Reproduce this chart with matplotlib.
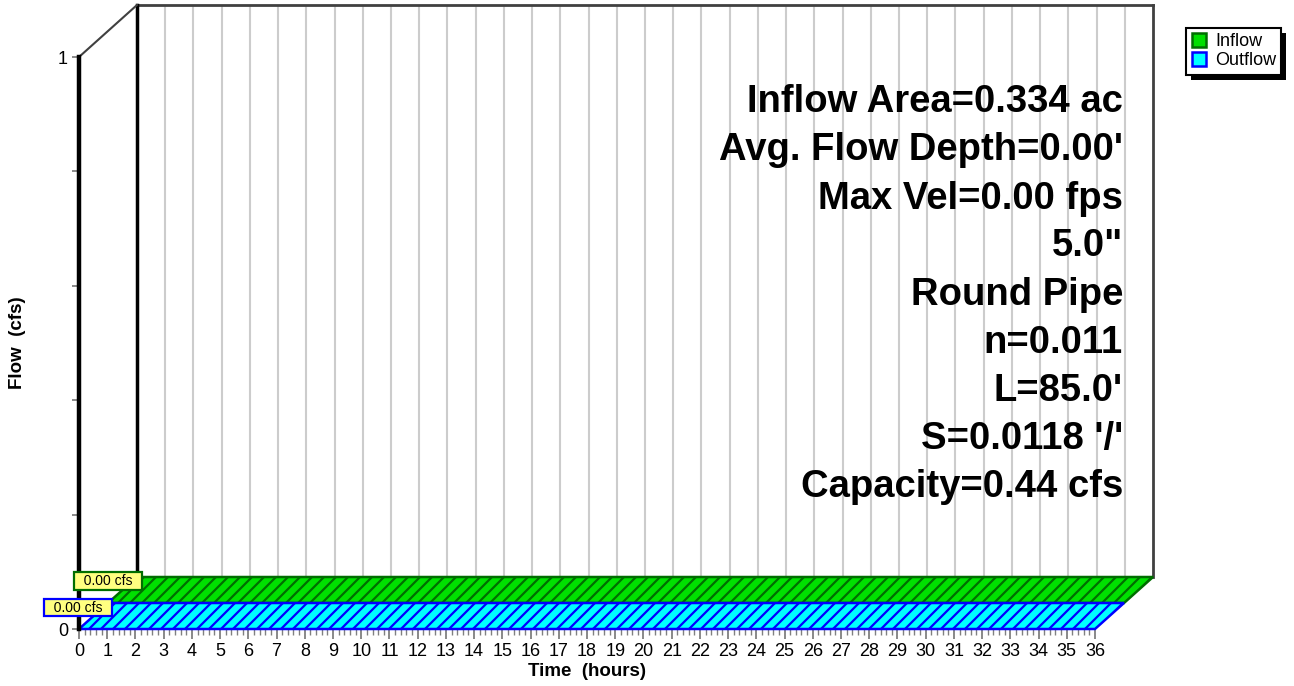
import matplotlib
matplotlib.use('Agg')
import matplotlib.pyplot as plt
from matplotlib.patches import Polygon, Rectangle
from matplotlib.lines import Line2D
from matplotlib.transforms import ScaledTranslation, IdentityTransform
import numpy as np

plt.rcParams['font.family'] = ['Liberation Sans', 'DejaVu Sans']

# hydrograph data (hours / cfs)
time_hr = [0.0, 36.0]
inflow_cfs = [0.00, 0.00]
outflow_cfs = [0.00, 0.00]

series_names = ['Inflow', 'Outflow']
fill_colors = ['#00E000', '#00FFFF']
edge_colors = ['#006E00', '#0000FF']

x_ticks = list(range(0, 37))
y_ticks = [0, 0.2, 0.4, 0.6, 0.8, 1.0]
y_ticklabels = ['0', '', '', '', '', '1']

info_lines = ["Inflow Area=0.334 ac", "Avg. Flow Depth=0.00'", "Max Vel=0.00 fps",
              '5.0"', "Round Pipe", "n=0.011", "L=85.0'", "S=0.0118 '/'",
              "Capacity=0.44 cfs"]

# 3d depth shift in pixels (for full depth)
DX, DY = 58, 52

fig = plt.figure(figsize=(12.94, 6.86), dpi=100)
ax = fig.add_axes([79 / 1294, 57 / 686, 1016 / 1294, 572 / 686])
ax.set_xlim(0, 36)
ax.set_ylim(0, 1)
ax.patch.set_visible(False)


def shifted(depth):
    return ax.transData + ScaledTranslation(DX * depth / 100, DY * depth / 100, fig.dpi_scale_trans)


def px(x, y, depth):
    p = ax.transData.transform((x, y))
    return p + depth * np.array([DX, DY]) * fig.dpi / 100


# back wall
back = shifted(1.0)
ax.vlines(x_ticks[1:-1], 0, 1, colors='#cccccc', lw=1.5, transform=back, zorder=1, clip_on=False)
ax.plot([0, 36], [1, 1], color='#404040', lw=2, transform=back, clip_on=False, zorder=1.5)
ax.plot([36, 36], [0, 1], color='#404040', lw=2, transform=back, clip_on=False, zorder=1.5)
ax.plot([0, 0], [0, 1], color='black', lw=2.5, transform=back, clip_on=False, zorder=1.5)
diag = np.array([px(0, 1, 0), px(0, 1, 1)])
ax.plot(diag[:, 0], diag[:, 1], color='#404040', lw=1.5, transform=IdentityTransform(), clip_on=False)

# ribbons (inflow at back, outflow at front)
series = [inflow_cfs, outflow_cfs]
depths = [(0.5, 1.0), (0.0, 0.5)]
label_offsets = [(-29, -4), (-30, -4.5)]
hatch_step = 12
for i in range(2):
    q = series[i]
    d0, d1 = depths[i]
    pts = [px(t, v, d0) for t, v in zip(time_hr, q)]
    pts += [px(t, v, d1) for t, v in zip(time_hr[::-1], q[::-1])]
    pts = np.array(pts)
    poly = Polygon(pts, closed=True, facecolor=fill_colors[i], edgecolor='none',
                   transform=IdentityTransform(), clip_on=False, zorder=2 + i)
    ax.add_patch(poly)
    # hatch lines clipped to the ribbon
    ymin, ymax = pts[:, 1].min(), pts[:, 1].max()
    h = ymax - ymin
    xmin, xmax = pts[:, 0].min(), pts[:, 0].max()
    for xs in np.arange(xmin - h, xmax + hatch_step, hatch_step):
        ln, = ax.plot([xs, xs + h], [ymin, ymax], color=edge_colors[i], lw=1.6,
                      transform=IdentityTransform(), zorder=2 + i + 0.1)
        ln.set_clip_box(None)
        ln.set_clip_path(poly)
    outline = Polygon(pts, closed=True, fill=False, edgecolor=edge_colors[i], lw=1.8,
                      transform=IdentityTransform(), clip_on=False, zorder=2 + i + 0.2)
    ax.add_patch(outline)
    peak = max(q)
    ox, oy = label_offsets[i]
    ax.annotate('  %.2f cfs  ' % peak, xy=(0, peak), xycoords=shifted(d1),
                xytext=(ox * 0.72, oy * 0.72), textcoords='offset points',
                ha='center', va='center', fontsize=10, zorder=10,
                bbox=dict(boxstyle='square,pad=0.12', fc='#FFFF80', ec=edge_colors[i], lw=1.6))

# axes
for s in ['top', 'right', 'bottom']:
    ax.spines[s].set_visible(False)
ax.spines['left'].set_linewidth(3.2)
ax.spines['left'].set_color('black')
ax.spines['left'].set_zorder(5)

ax.set_xticks(x_ticks)
ax.set_xticks(np.arange(0, 36.01, 0.2), minor=True)
ax.tick_params(axis='x', which='major', length=7, width=1.3, color='#808080', labelsize=13, pad=3)
ax.tick_params(axis='x', which='minor', length=4, width=1, color='#808080')
ax.set_yticks(y_ticks)
ax.set_yticklabels(y_ticklabels)
ax.tick_params(axis='y', length=5, width=1.3, color='#808080', labelsize=13, pad=3)

# info text
baselines = [112, 160, 209, 256, 305, 353, 401, 449, 497]
for line, yb in zip(info_lines, baselines):
    fig.text(1123 / 1294, 1 - yb / 686, line, ha='right', va='baseline',
             fontsize=27.5, fontweight='bold')

fig.text(587 / 1294, 1 - 672 / 686, 'Time  (hours)', ha='center', va='center',
         fontsize=13.5, fontweight='bold')
fig.text(18 / 1294, 1 - 343 / 686, 'Flow  (cfs)', ha='center', va='center',
         rotation=90, fontsize=13.5, fontweight='bold')

# legend
handles = [Line2D([], [], ls='', marker='s', markersize=10, markerfacecolor=fill_colors[i],
                  markeredgecolor=edge_colors[i], markeredgewidth=1.8) for i in range(2)]
leg = fig.legend(handles, series_names, loc='upper left', bbox_to_anchor=(1186 / 1294, 1 - 28 / 686),
                 borderaxespad=0, fancybox=False, edgecolor='black', framealpha=1,
                 fontsize=13, handlelength=0.8, handletextpad=0.5, borderpad=0.3,
                 labelspacing=0.1)
leg.get_frame().set_linewidth(1.5)
leg.set_zorder(6)

fig.canvas.draw()
bb = leg.get_window_extent()
shadow = Rectangle((bb.x0 + 5, bb.y0 - 5), bb.width, bb.height, facecolor='black',
                   edgecolor='none', transform=IdentityTransform(), zorder=5)
fig.add_artist(shadow)

fig.savefig('out.png', dpi=100)
